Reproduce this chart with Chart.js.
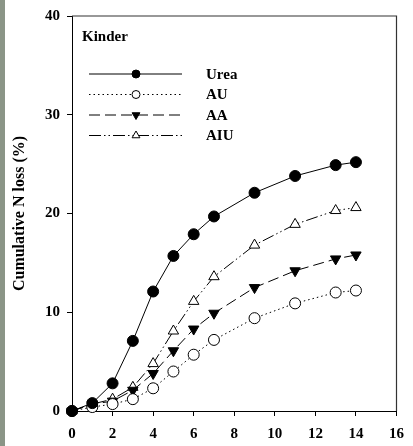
<!DOCTYPE html>
<html>
<head>
<meta charset="utf-8">
<script src="https://cdn.jsdelivr.net/npm/chart.js@4.4.1/dist/chart.umd.min.js"></script>
<style>
  html, body { margin: 0; padding: 0; background: #fff; }
  #wrap { width: 413px; height: 446px; position: relative; }
</style>
</head>
<body>
<div id="wrap"><canvas id="nloss" width="413" height="446"></canvas></div>
<script>
// days after application
const days = [0, 1, 2, 3, 4, 5, 6, 7, 9, 11, 13, 14];

// cumulative N loss (%) per treatment
const urea = [0, 0.8, 2.8, 7.1, 12.1, 15.7, 17.9, 19.7, 22.1, 23.8, 24.9, 25.2];
const au   = [0, 0.4, 0.7, 1.2, 2.3, 4.0, 5.7, 7.2, 9.4, 10.9, 12.0, 12.2];
const aa   = [0, 0.7, 1.0, 2.1, 3.8, 6.1, 8.3, 9.9, 12.5, 14.2, 15.4, 15.8];
const aiu  = [0, 0.7, 1.2, 2.4, 4.8, 8.1, 11.1, 13.6, 16.8, 18.9, 20.3, 20.6];

const seriesNames = ['Urea', 'AU', 'AA', 'AIU'];
const siteName = 'Kinder';
const yTitle = 'Cumulative N loss (%)';

const serif = '"Liberation Serif", "Times New Roman", serif';

function pts(vals) {
    return days.map((d, i) => ({ x: d, y: vals[i] }));
}

function series(label, vals, style) {
    return Object.assign({
        label: label,
        data: pts(vals),
        showLine: true,
        tension: 0,
        clip: false,
        borderColor: '#000',
        borderWidth: 1,
        pointBorderColor: '#000',
        pointBorderWidth: 1,
        pointHoverRadius: 5
    }, style);
}

// inset legend + site label, frame, and grey strip on the left
const extras = {
    id: 'extras',
    beforeDraw(chart) {
        const ctx = chart.ctx;
        ctx.save();
        ctx.fillStyle = '#8b9587';
        ctx.fillRect(0, 0, 5, chart.height);
        ctx.restore();
    },
    afterDraw(chart) {
        const ctx = chart.ctx;
        const a = chart.chartArea;
        ctx.save();
        ctx.strokeStyle = '#333';
        ctx.lineWidth = 1.2;
        ctx.beginPath();
        ctx.moveTo(a.left, a.top);
        ctx.lineTo(a.right, a.top);
        ctx.lineTo(a.right, a.bottom);
        ctx.stroke();

        ctx.fillStyle = '#000';
        ctx.font = 'bold 15px ' + serif;
        ctx.textBaseline = 'middle';
        ctx.fillText(siteName, a.left + 10, a.top + 21);

        const x0 = a.left + 17, x1 = a.left + 110, xm = a.left + 64;
        chart.data.datasets.forEach((ds, i) => {
            const y = a.top + 58 + i * 20.5;
            ctx.strokeStyle = '#000';
            ctx.lineWidth = 1;
            ctx.setLineDash(ds.borderDash || []);
            ctx.beginPath();
            ctx.moveTo(x0, y);
            ctx.lineTo(x1, y);
            ctx.stroke();
            ctx.setLineDash([]);
            ctx.fillStyle = ds.pointBackgroundColor;
            Chart.helpers.drawPoint(ctx, {
                pointStyle: ds.pointStyle,
                rotation: ds.pointRotation || 0,
                radius: ds.pointStyle === 'circle' ? 4 : 4.5,
                borderWidth: 1
            }, xm, y);
            ctx.fillStyle = '#000';
            ctx.fillText(ds.label, a.left + 134, y + 1);
        });
        ctx.restore();
    }
};

new Chart(document.getElementById('nloss'), {
    type: 'scatter',
    data: {
        datasets: [
            series(seriesNames[0], urea, {
                pointStyle: 'circle', pointRadius: 5.5, pointBackgroundColor: '#000'
            }),
            series(seriesNames[1], au, {
                borderDash: [1.5, 3], pointStyle: 'circle', pointRadius: 5.5, pointBackgroundColor: '#fff'
            }),
            series(seriesNames[2], aa, {
                borderDash: [11, 5], pointStyle: 'triangle', pointRotation: 180,
                pointRadius: 6, pointBackgroundColor: '#000'
            }),
            series(seriesNames[3], aiu, {
                borderDash: [12, 3, 1.5, 3, 1.5, 3], pointStyle: 'triangle',
                pointRadius: 6, pointBackgroundColor: '#fff'
            })
        ]
    },
    plugins: [extras],
    options: {
        responsive: false,
        animation: false,
        layout: { padding: { top: 15, right: 11, left: 0, bottom: 0 } },
        plugins: {
            legend: { display: false },
            tooltip: { enabled: false }
        },
        scales: {
            x: {
                type: 'linear',
                min: 0,
                max: 16,
                ticks: {
                    stepSize: 2,
                    color: '#000',
                    padding: 9,
                    font: { family: serif, size: 15, weight: 'bold' }
                },
                grid: { drawOnChartArea: false, drawTicks: true, tickLength: 5, tickColor: '#000' },
                border: { display: true, color: '#000', width: 1 },
                afterFit(scale) { scale.height = 35; }
            },
            y: {
                type: 'linear',
                min: 0,
                max: 40,
                ticks: {
                    stepSize: 10,
                    color: '#000',
                    padding: 7,
                    font: { family: serif, size: 15, weight: 'bold' }
                },
                title: {
                    display: true,
                    text: yTitle,
                    color: '#000',
                    padding: { top: 10, bottom: 0 },
                    font: { family: serif, size: 16, weight: 'bold' }
                },
                grid: { drawOnChartArea: false, drawTicks: true, tickLength: 5, tickColor: '#000' },
                border: { display: true, color: '#000', width: 1 },
                afterFit(scale) { scale.width = 72; }
            }
        }
    }
});
</script>
</body>
</html>
